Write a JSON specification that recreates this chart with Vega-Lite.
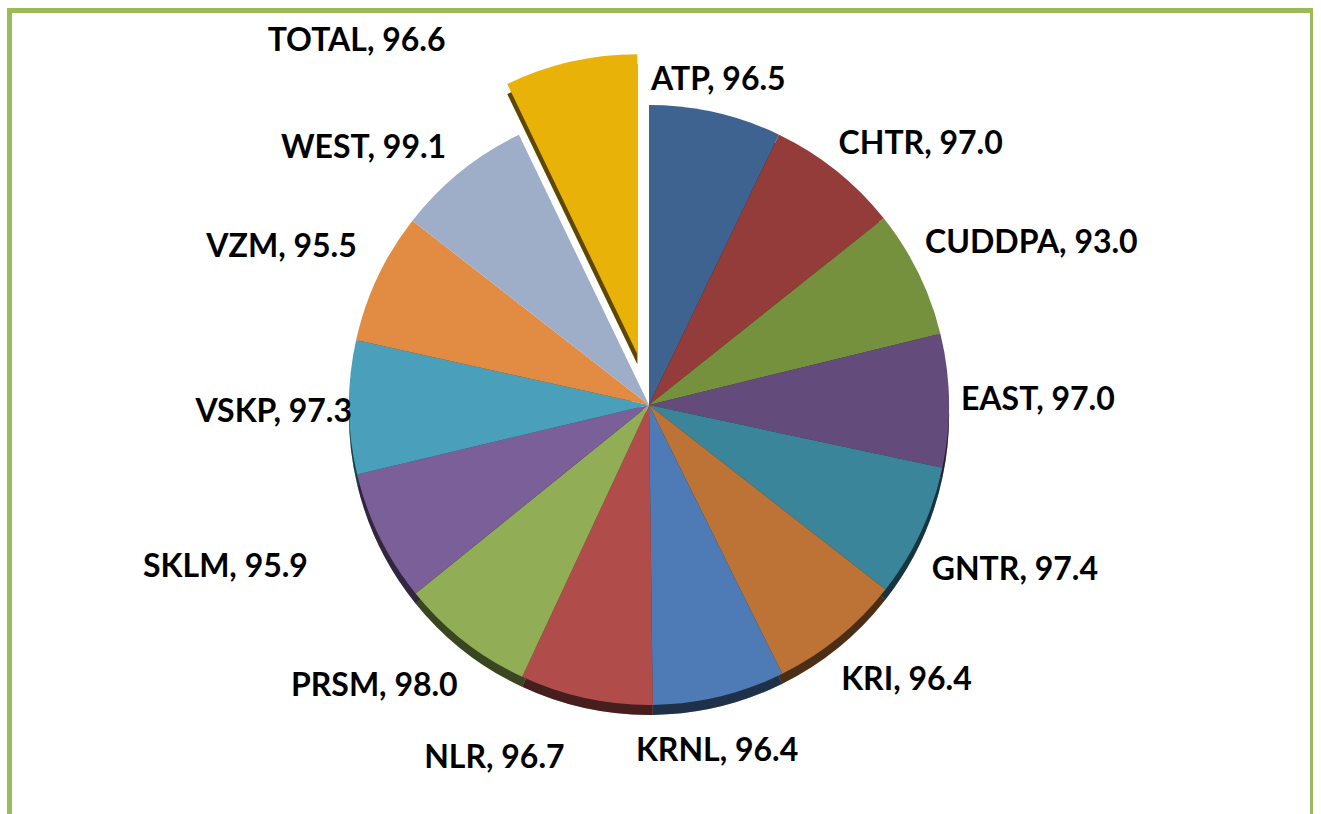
{
  "$schema": "https://vega.github.io/schema/vega-lite/v6.json",
  "width": 1303,
  "height": 810,
  "autosize": "none",
  "padding": {"left": 9.5, "top": 10.5, "right": 0, "bottom": 0},
  "background": "white",
  "view": {"stroke": "#9BBB59", "strokeWidth": 5, "fill": "white"},
  "config": {
    "view": {"stroke": "#9BBB59", "strokeWidth": 5},
    "text": {"font": "Lato"}
  },
  "data": {
    "values": [
      {"order": 1, "name": "ATP", "value": 96.5},
      {"order": 2, "name": "CHTR", "value": 97.0},
      {"order": 3, "name": "CUDDPA", "value": 93.0},
      {"order": 4, "name": "EAST", "value": 97.0},
      {"order": 5, "name": "GNTR", "value": 97.4},
      {"order": 6, "name": "KRI", "value": 96.4},
      {"order": 7, "name": "KRNL", "value": 96.4},
      {"order": 8, "name": "NLR", "value": 96.7},
      {"order": 9, "name": "PRSM", "value": 98.0},
      {"order": 10, "name": "SKLM", "value": 95.9},
      {"order": 11, "name": "VSKP", "value": 97.3},
      {"order": 12, "name": "VZM", "value": 95.5},
      {"order": 13, "name": "WEST", "value": 99.1},
      {"order": 14, "name": "TOTAL", "value": 96.6}
    ]
  },
  "transform": [
    {"window": [{"op": "sum", "field": "value", "as": "cum"}], "sort": [{"field": "order"}], "frame": [null, 0]},
    {"joinaggregate": [{"op": "sum", "field": "value", "as": "total"}]},
    {"calculate": "2*PI*datum.cum/datum.total", "as": "a1"},
    {"calculate": "2*PI*(datum.cum-datum.value)/datum.total", "as": "a0"},
    {"calculate": "(datum.a0+datum.a1)/2", "as": "mid"},
    {"calculate": "sin(datum.mid)", "as": "s"},
    {"calculate": "cos(datum.mid)", "as": "c"},
    {"calculate": "datum.name + ', ' + format(datum.value, '.1f')", "as": "label"}
  ],
  "encoding": {
    "theta": {"field": "a0", "type": "quantitative", "scale": null},
    "theta2": {"field": "a1"},
    "color": {
      "field": "name",
      "type": "nominal",
      "legend": null,
      "scale": {
        "domain": ["ATP", "CHTR", "CUDDPA", "EAST", "GNTR", "KRI", "KRNL", "NLR", "PRSM", "SKLM", "VSKP", "VZM", "WEST", "TOTAL"],
        "range": ["#3F6390", "#943C3A", "#76913D", "#634C7B", "#3A8599", "#BD7236", "#4E7BB5", "#B04C49", "#91AD55", "#7A5F99", "#4AA0BA", "#E28B43", "#9EADC8", "#E9B208"]
      }
    }
  },
  "layer": [
    {
      "transform": [{"filter": "datum.name != 'TOTAL' && datum.name != 'WEST'"}],
      "mark": {"type": "arc", "radius": 300, "xOffset": -12, "yOffset": -0.5}
    },
    {
      "transform": [{"filter": "datum.name != 'TOTAL' && datum.name != 'WEST'"}],
      "mark": {"type": "arc", "radius": 300, "xOffset": -12, "yOffset": -0.5, "fill": "black", "opacity": 0.6}
    },
    {
      "transform": [{"filter": "datum.name != 'TOTAL'"}],
      "mark": {"type": "arc", "radius": 300, "xOffset": -12, "yOffset": -10.5}
    },
    {
      "transform": [{"filter": "datum.name == 'TOTAL'"}],
      "mark": {"type": "arc", "radius": 300, "xOffset": -23.6, "yOffset": -51.2}
    },
    {
      "transform": [{"filter": "datum.name == 'TOTAL'"}],
      "mark": {"type": "arc", "radius": 300, "xOffset": -23.6, "yOffset": -51.2, "fill": "black", "opacity": 0.6}
    },
    {
      "transform": [{"filter": "datum.name == 'TOTAL'"}],
      "mark": {"type": "arc", "radius": 300, "xOffset": -23.6, "yOffset": -61.2}
    },
    {
      "mark": {
        "type": "text",
        "radius": 312,
        "fontSize": 32,
        "fontWeight": "bold",
        "color": "black",
        "align": {"expr": "datum.s > 0.3 ? 'left' : (datum.s < -0.3 ? 'right' : 'center')"},
        "baseline": {"expr": "datum.c > 0.3 ? 'bottom' : (datum.c < -0.3 ? 'top' : 'middle')"},
        "dx": {"expr": "-12 + (datum.name == 'NLR' ? -89 : datum.name == 'PRSM' ? 1 : datum.name == 'SKLM' ? -61 : datum.name == 'TOTAL' ? -223 : datum.name == 'CHTR' ? -5 : datum.name == 'CUDDPA' ? -4 : datum.name == 'KRI' ? -5 : datum.name == 'KRNL' ? -5 : datum.name == 'VSKP' ? 15 : datum.name == 'VZM' ? -10 : datum.name == 'WEST' ? -7 : 0)"},
        "dy": {"expr": "-10.5 + (datum.c < -0.3 ? 18 : 0) + (datum.name == 'NLR' ? 15 : datum.name == 'PRSM' ? 2 : datum.name == 'SKLM' ? -8 : datum.name == 'TOTAL' ? -42.5 : datum.name == 'ATP' ? -4 : datum.name == 'CUDDPA' ? -8 : datum.name == 'KRNL' ? 10 : datum.name == 'VSKP' ? 5 : datum.name == 'VZM' ? -8 : datum.name == 'WEST' ? 3 : 0)"}
      },
      "encoding": {
        "theta": {"field": "mid", "type": "quantitative", "scale": null},
        "theta2": null,
        "color": null,
        "text": {"field": "label", "type": "nominal"}
      }
    }
  ]
}
